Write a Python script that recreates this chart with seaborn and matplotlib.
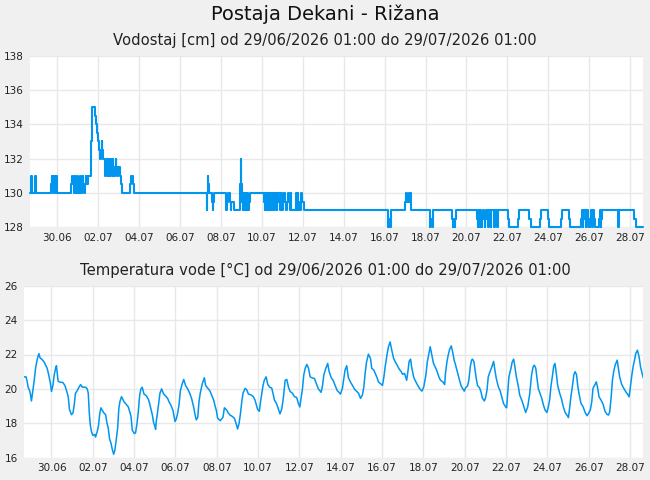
import matplotlib
matplotlib.use("Agg")
import matplotlib.pyplot as plt
import seaborn as sns

# ---------------- data ----------------
# x values: days since 29.06.2026 00:00 (1 = 30.06)
tick_labels = ["30.06", "02.07", "04.07", "06.07", "08.07", "10.07", "12.07", "14.07",
               "16.07", "18.07", "20.07", "22.07", "24.07", "26.07", "28.07"]

# water level [cm] change points (step series)
level_day = [
    -0.33, -0.28, -0.26, -0.25, -0.22, -0.10, -0.07, -0.06, -0.02,
    0.70, 0.73, 0.74, 0.77, 0.78, 0.80, 0.82, 0.84, 0.85, 0.88, 0.89, 0.92, 0.94, 0.96, 0.97, 1.00,
    1.68, 1.70, 1.71, 1.74, 1.75, 1.78, 1.79, 1.82, 1.86, 1.88, 1.89, 1.93, 1.96, 1.99, 2.00,
    2.04, 2.10, 2.13, 2.14, 2.17, 2.22, 2.25, 2.26, 2.30, 2.36, 2.40, 2.41, 2.46, 2.47, 2.50,
    2.66, 2.70, 2.87, 2.92, 2.95, 3.00, 3.04, 3.10, 3.12, 3.14, 3.16, 3.18, 3.19, 3.25,
    3.33, 3.36, 3.38, 3.42, 3.43, 3.46, 3.49, 3.51, 3.52, 3.56, 3.59, 3.62, 3.63,
    3.67, 3.71, 3.74, 3.75, 3.79, 3.83, 3.87, 3.88, 3.94, 3.96, 4.05, 4.12, 4.18,
    4.58, 4.61, 4.71, 4.75,
    8.31, 8.33, 8.34, 8.36, 8.37, 8.43, 8.58, 8.62, 8.63, 8.68,
    9.25, 9.27, 9.28, 9.33, 9.43, 9.49, 9.51, 9.66, 9.92, 9.98, 9.99, 10.05,
    10.07, 10.09, 10.12, 10.14, 10.16, 10.19, 10.21, 10.24, 10.26, 10.29, 10.31, 10.33, 10.36, 10.40,
    11.13, 11.15, 11.17, 11.19, 11.21, 11.24, 11.26, 11.29, 11.31, 11.34, 11.36, 11.39, 11.42,
    11.44, 11.47, 11.50, 11.53, 11.56, 11.58, 11.61, 11.64, 11.67, 11.70, 11.73, 11.76, 11.79,
    11.82, 11.86, 11.90, 11.93, 11.96, 12.00, 12.04, 12.06, 12.10, 12.14, 12.18, 12.24, 12.30,
    12.33, 12.38, 12.41, 12.45, 12.66, 12.69, 12.70, 12.74, 12.77, 12.78, 12.84, 12.90, 12.92,
    12.93, 12.95, 13.05,
    17.16, 17.18, 17.20, 17.27, 17.29, 17.33,
    17.98, 18.03, 18.05, 18.06, 18.09, 18.21, 18.23, 18.25, 18.28, 18.30,
    19.20, 19.22, 19.24, 19.33, 19.35, 19.39,
    20.30, 20.32, 20.34, 20.43, 20.45, 20.47,
    21.53, 21.55, 21.57, 21.60, 21.62, 21.65, 21.67, 21.72, 21.74, 21.76, 21.80, 21.88, 21.90, 21.92,
    21.96, 22.05, 22.07, 22.09, 22.17, 22.19, 22.21, 22.34, 22.36, 22.38, 22.41, 22.47, 22.50, 22.52,
    23.05, 23.07, 23.51, 23.59, 24.08, 24.16, 24.60, 24.63, 24.98, 25.06, 25.63, 25.66,
    26.03, 26.06, 26.60, 26.63, 26.68, 26.70, 26.72, 26.76, 26.80, 26.82, 26.84,
    26.93, 26.96, 26.99, 27.02, 27.05, 27.09, 27.14, 27.16, 27.18, 27.23, 27.26, 27.48, 27.52,
    27.56, 27.58, 27.60, 27.63, 28.40, 28.42, 28.44, 28.46, 29.20, 29.28, 29.63,
]
level_cm = [
    130, 130.5, 131, 130.5, 130, 130.5, 131, 130.5, 130,
    130.5, 131, 130.5, 131, 130.5, 130, 130.5, 131, 130.5, 131, 130.5, 130, 130.5, 131, 130.5, 130,
    130.5, 131, 130.5, 131, 130.5, 131, 130.5, 130, 130.5, 131, 130.5, 130, 130.5, 131, 130.5,
    130, 130.5, 131, 130.5, 130, 130.5, 131, 130.5, 130, 130.5, 131, 130.5, 131, 130.5, 131,
    133, 135, 134.5, 134, 133.5, 133, 132.5, 132, 132.5, 132, 132.5, 133, 132.5, 132,
    131.5, 131, 131.5, 132, 131.5, 131, 131.5, 132, 131.5, 131, 131.5, 132, 131.5,
    131, 131.5, 132, 131.5, 131, 131.5, 132, 131.5, 131, 131.5, 131, 130.5, 130,
    130.5, 131, 130.5, 130,
    129.5, 129, 130, 131, 130.5, 130, 129.5, 129, 129.5, 130,
    129.5, 129, 129.5, 130, 129.5, 129, 129.5, 129, 130.5, 132, 130.5, 129.5,
    129, 130, 129, 129.5, 130, 129, 130, 129.5, 129, 130, 129.5, 129, 129.5, 130,
    129.5, 129, 130, 129, 129.5, 130, 129, 130, 129, 129.5, 130, 129, 130,
    129.5, 129, 130, 129, 130, 129.5, 129, 130, 129.5, 130, 129, 130, 129.5,
    130, 129.5, 129, 130, 129.5, 129, 130, 129.5, 130, 129.5, 129, 129.5, 130,
    129.5, 129, 130, 129, 129.5, 130, 129.5, 129, 130, 129.5, 129, 130, 129.5,
    130, 129.5, 129,
    128.5, 128, 128.5, 128, 128.5, 129,
    129.5, 130, 129.5, 130, 129.5, 130, 129.5, 130, 129.5, 129,
    128.5, 128, 128.5, 128, 128.5, 129,
    128.5, 128, 128.5, 128, 128.5, 129,
    128.5, 128, 128.5, 129, 128.5, 128, 129, 128.5, 128, 128.5, 129, 128.5, 128, 128.5,
    129, 128.5, 128, 129, 128.5, 128, 129, 128.5, 128, 128.5, 129, 128.5, 128, 129,
    128.5, 128, 128.5, 129, 128.5, 128, 128.5, 129, 128.5, 128, 128.5, 129,
    128.5, 128, 128.5, 129, 128.5, 128, 128.5, 129, 128.5, 128, 129,
    128.5, 128, 128.5, 128, 128.5, 129, 128.5, 128, 129, 128.5, 128, 128.5, 129,
    128.5, 128, 128.5, 129, 128.5, 128, 128.5, 129, 128.5, 128, 128,
]

# water temperature [°C]
temp_day = [
    -0.32, -0.23, -0.18, -0.13, -0.06, -0.02, 0.03, 0.10, 0.16, 0.23,
    0.29, 0.34, 0.39, 0.45, 0.55, 0.65, 0.71, 0.79, 0.87, 0.95,
    1.00, 1.07, 1.13, 1.20, 1.24, 1.29, 1.32, 1.39, 1.55, 1.65,
    1.74, 1.81, 1.87, 1.97, 2.04, 2.10, 2.16, 2.25, 2.33, 2.41,
    2.49, 2.65, 2.73, 2.78, 2.83, 2.88, 2.94, 3.00, 3.10, 3.13,
    3.21, 3.28, 3.33, 3.39, 3.46, 3.54, 3.62, 3.68, 3.75, 3.81,
    3.88, 3.94, 4.01, 4.07, 4.13, 4.20, 4.26, 4.31, 4.39, 4.51,
    4.62, 4.72, 4.78, 4.85, 4.91, 5.01, 5.07, 5.14, 5.20, 5.27,
    5.33, 5.39, 5.48, 5.59, 5.69, 5.75, 5.81, 5.88, 5.94, 6.01,
    6.04, 6.07, 6.12, 6.19, 6.25, 6.33, 6.43, 6.52, 6.62, 6.69,
    6.78, 6.88, 6.98, 7.04, 7.11, 7.17, 7.24, 7.33, 7.40, 7.49,
    7.59, 7.69, 7.78, 7.88, 7.95, 8.01, 8.08, 8.14, 8.20, 8.30,
    8.40, 8.46, 8.56, 8.66, 8.75, 8.85, 8.92, 8.98, 9.04, 9.17,
    9.30, 9.37, 9.46, 9.56,
    9.64, 9.75, 9.85, 9.92, 9.98, 10.01, 10.08, 10.14, 10.21, 10.27,
    10.37, 10.45, 10.53, 10.66, 10.77, 10.85, 10.92, 10.98, 11.06, 11.13,
    11.18, 11.24, 11.30, 11.39, 11.47, 11.56, 11.66, 11.72, 11.79, 11.89,
    11.95, 12.06, 12.15, 12.23, 12.31, 12.39, 12.47, 12.55, 12.66, 12.76,
    12.87, 12.95, 13.02, 13.08, 13.15, 13.21, 13.28, 13.36, 13.44, 13.52,
    13.60, 13.73, 13.82, 13.92, 14.05, 14.12, 14.18, 14.28, 14.37, 14.44,
    14.54, 14.63, 14.73, 14.83, 14.92, 14.99, 15.08, 15.15, 15.21, 15.29,
    15.37, 15.47, 15.57, 15.67, 15.76, 15.86, 15.96, 16.05, 16.12, 16.18,
    16.25, 16.34, 16.44, 16.50, 16.60, 16.67, 16.76, 16.83, 16.93, 17.02,
    17.09, 17.15, 17.25, 17.31, 17.39, 17.47, 17.56, 17.64, 17.73, 17.83,
    17.93, 17.99, 18.09, 18.19, 18.25, 18.31, 18.38, 18.44, 18.54, 18.64,
    18.73, 18.83, 18.93, 19.02, 19.12, 19.19, 19.25, 19.33, 19.41, 19.49,
    19.57,
    19.67, 19.75, 19.83, 19.95, 20.03, 20.07, 20.14, 20.20, 20.27, 20.35,
    20.43, 20.49, 20.56, 20.62, 20.69, 20.75, 20.82, 20.88, 20.98, 21.04,
    21.14, 21.20, 21.27, 21.33, 21.38, 21.45, 21.50, 21.56, 21.62, 21.72,
    21.79, 21.85, 21.95, 22.01, 22.08, 22.14, 22.21, 22.30, 22.40, 22.46,
    22.53, 22.63, 22.72, 22.79, 22.88, 22.98, 23.03, 23.08, 23.14, 23.24,
    23.30, 23.37, 23.43, 23.50, 23.60, 23.66, 23.76, 23.85, 23.95, 24.05,
    24.14, 24.24, 24.31, 24.37, 24.44, 24.50, 24.56, 24.66, 24.73, 24.82,
    24.89, 24.98, 25.05, 25.11, 25.18, 25.24, 25.31, 25.37, 25.44, 25.50,
    25.60, 25.69, 25.76, 25.86, 25.95, 26.02, 26.08, 26.15, 26.21, 26.28,
    26.34, 26.41, 26.47, 26.53, 26.63, 26.73, 26.83, 26.92, 26.99, 27.08,
    27.15, 27.21, 27.31, 27.37, 27.44, 27.50, 27.60, 27.70, 27.79, 27.89,
    27.96, 28.02, 28.09, 28.15, 28.21, 28.28, 28.38, 28.44, 28.50, 28.60,
    28.70, 28.80, 28.89, 28.96, 29.02, 29.09, 29.15, 29.22, 29.28, 29.36,
    29.44, 29.51, 29.57, 29.64, 29.70,
]
temp_c = [
    20.7, 20.7, 20.45, 20.1, 19.9, 19.7, 19.3, 19.9, 20.45, 21.2,
    21.6, 21.85, 22.05, 21.8, 21.7, 21.55, 21.4, 21.2, 20.8, 20.3,
    19.85, 20.2, 20.8, 21.2, 21.35, 20.8, 20.45, 20.4, 20.37, 20.2,
    19.85, 19.55, 18.8, 18.5, 18.6, 19.05, 19.75, 19.9, 20.1, 20.25,
    20.1, 20.1, 20.0, 19.75, 18.6, 17.9, 17.5, 17.3, 17.35, 17.2,
    17.5, 17.9, 18.5, 18.9, 18.75, 18.6, 18.5, 18.05, 17.7, 17.1,
    16.85, 16.5, 16.2, 16.45, 17.0, 17.7, 18.85, 19.25, 19.55, 19.25,
    19.1, 18.95, 18.7, 18.4, 17.6, 17.4, 17.45, 18.0, 18.65, 19.65,
    20.0, 20.1, 19.7, 19.6, 19.4, 19.15, 18.85, 18.5, 18.05, 17.8,
    17.65, 18.1, 18.5, 19.15, 19.75, 20.0, 19.7, 19.6, 19.45, 19.25,
    19.05, 18.75, 18.1, 18.25, 18.6, 19.05, 19.9, 20.3, 20.55, 20.2,
    20.0, 19.75, 19.45, 18.95, 18.5, 18.2, 18.35, 19.25, 19.75, 20.3,
    20.65, 20.2, 20.05, 19.9, 19.65, 19.35, 19.0, 18.75, 18.3, 18.15,
    18.35, 18.9, 18.8, 18.6,
    18.48, 18.4, 18.3, 18.05, 17.8, 17.67, 18.0, 18.5, 19.25, 19.75,
    20.03, 19.95, 19.7, 19.65, 19.55, 19.35, 19.05, 18.8, 18.7, 19.35,
    19.75, 20.2, 20.5, 20.7, 20.25, 20.1, 20.05, 19.75, 19.35, 19.15,
    18.95, 18.55, 18.85, 19.55, 20.5, 20.55, 20.1, 19.85, 19.75, 19.55,
    19.5, 19.15, 18.95, 19.45, 20.03, 20.8, 21.2, 21.42, 21.2, 20.7,
    20.65, 20.6, 20.3, 20.0, 19.8, 20.2, 20.8, 21.2, 21.48, 21.0,
    20.65, 20.5, 20.2, 19.9, 19.8, 19.7, 20.03, 20.6, 21.1, 21.35,
    20.65, 20.4, 20.2, 19.98, 19.87, 19.75, 19.45, 19.65, 20.12, 20.9,
    21.57, 22.02, 21.77, 21.2, 21.1, 20.9, 20.65, 20.4, 20.3, 20.2,
    20.7, 21.28, 22.06, 22.45, 22.73, 22.25, 21.77, 21.57, 21.38, 21.15,
    21.0, 20.85, 20.9, 20.5, 21.0, 21.6, 21.73, 21.2, 20.65, 20.4,
    20.2, 20.0, 19.87, 20.12, 20.8, 21.57, 21.96, 22.45, 21.96, 21.48,
    21.28,
    21.0, 20.7, 20.5, 20.4, 20.25, 20.9, 21.57, 21.96, 22.3, 22.5,
    22.06, 21.67, 21.38, 21.1, 20.76, 20.5, 20.2, 20.06, 19.87, 20.06,
    20.18, 20.5, 21.28, 21.67, 21.73, 21.57, 21.1, 20.6, 20.2, 20.06,
    19.83, 19.48, 19.3, 19.48, 19.93, 20.7, 20.95, 21.23, 21.6, 21.1,
    20.6, 20.12, 19.87, 19.55, 19.15, 18.96, 18.9, 19.74, 20.7, 21.2,
    21.57, 21.73, 21.28, 20.7, 20.12, 19.65, 19.35, 19.02, 18.63, 18.96,
    19.65, 20.84, 21.28, 21.38, 21.2, 20.6, 20.03, 19.68, 19.45, 19.02,
    18.77, 18.63, 18.96, 19.35, 20.2, 20.7, 21.34, 21.48, 20.84, 20.2,
    19.74, 19.4, 19.02, 18.63, 18.48, 18.33, 18.9, 19.64, 20.12, 20.8,
    21.0, 20.84, 20.2, 19.74, 19.15, 18.96, 18.63, 18.44, 18.57, 18.77,
    19.25, 20.03, 20.26, 20.41, 20.03, 19.54, 19.35, 19.1, 18.7, 18.52,
    18.48, 18.67, 19.54, 20.5, 21.0, 21.38, 21.67, 21.2, 20.7, 20.26,
    20.03, 19.83, 19.68, 19.54, 20.12, 20.8, 21.28, 21.67, 22.06, 22.25,
    21.87, 21.28, 21.0, 20.65, 20.6,
]

main_title = "Postaja Dekani - Rižana"
level_title = "Vodostaj [cm] od 29/06/2026 01:00 do 29/07/2026 01:00"
temp_title = "Temperatura vode [°C] od 29/06/2026 01:00 do 29/07/2026 01:00"

# ---------------- style ----------------
sns.set_theme(style="whitegrid")
plt.rcParams["font.family"] = ["DejaVu Sans"]

LINE = "#0096f0"
BG = "#f0f0f0"
GRID = "#e8e8e8"

fig = plt.figure(figsize=(6.5, 4.8), dpi=100, facecolor=BG)
ax1 = fig.add_axes([30 / 650, 1 - 227.3 / 480, 613 / 650, 171.6 / 480])
ax2 = fig.add_axes([24 / 650, 1 - 457.7 / 480, 619 / 650, 172 / 480])

sns.lineplot(x=level_day, y=level_cm, ax=ax1, color=LINE, lw=1.5,
             drawstyle="steps-post", estimator=None, clip_on=False)
sns.lineplot(x=temp_day, y=temp_c, ax=ax2, color=LINE, lw=1.1, estimator=None)

tick_pos = [1 + 2 * i for i in range(len(tick_labels))]
for ax, (lo, hi), ypad in ((ax1, (128, 138), 18.5), (ax2, (16, 26), 14)):
    ax.set_facecolor("white")
    ax.set_xlim(-0.33, 29.63)
    ax.set_ylim(lo, hi)
    ax.set_yticks(range(lo, hi + 1, 2))
    ax.set_xticks(tick_pos)
    ax.set_xticklabels(tick_labels)
    ax.grid(True, color=GRID, lw=1)
    for s in ax.spines.values():
        s.set_visible(False)
    ax.tick_params(axis="both", length=0, labelsize=7.5, colors="#222222")
    ax.tick_params(axis="x", pad=4)
    ax.tick_params(axis="y", pad=ypad)
    for lab in ax.get_yticklabels():
        lab.set_horizontalalignment("left")
    ax.set_xlabel("")
    ax.set_ylabel("")

fig.text(0.5, 1 - 14 / 480, main_title, ha="center", va="center", fontsize=14, color="#111111")
fig.text(0.5, 1 - 40 / 480, level_title, ha="center", va="center", fontsize=10.6, color="#222222")
fig.text(0.5, 1 - 270 / 480, temp_title, ha="center", va="center", fontsize=10.6, color="#222222")

fig.savefig("out.png", dpi=100, facecolor=BG)
